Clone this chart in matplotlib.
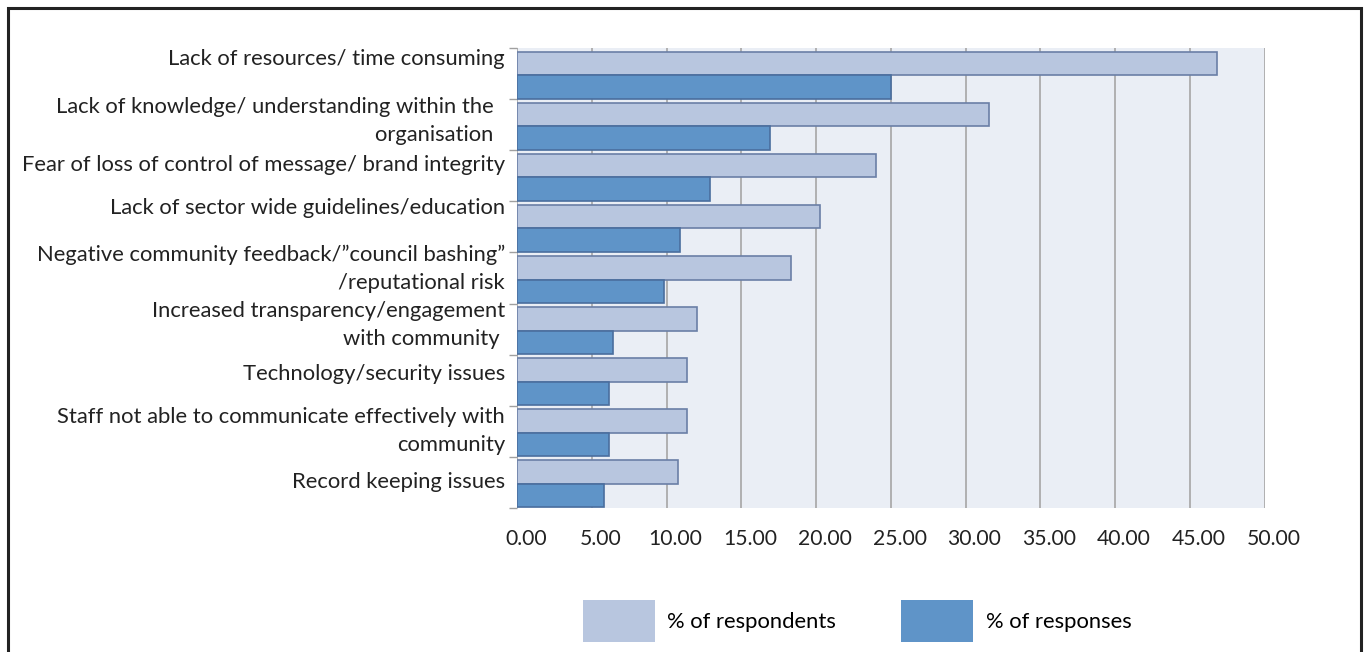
import matplotlib
matplotlib.use("Agg")
import matplotlib.pyplot as plt
import matplotlib.transforms as mtransforms
from matplotlib.patches import Patch, Rectangle
import numpy as np

plt.rcParams['font.family'] = ['Lato', 'DejaVu Sans']

categories = [
    "Lack of resources/ time consuming",
    "Lack of knowledge/ understanding within the  \norganisation  ",
    "Fear of loss of control of message/ brand integrity",
    "Lack of sector wide guidelines/education",
    "Negative community feedback/\u201dcouncil bashing\u201d\n/reputational risk",
    "Increased transparency/engagement\nwith community ",
    "Technology/security issues",
    "Staff not able to communicate effectively with\ncommunity",
    "Record keeping issues",
]
pct_respondents = [46.8, 31.6, 24.0, 20.3, 18.35, 12.05, 11.35, 11.35, 10.8]
pct_responses = [25.05, 16.9, 12.9, 10.9, 9.85, 6.4, 6.15, 6.15, 5.8]
x_ticks = [0, 5, 10, 15, 20, 25, 30, 35, 40, 45, 50]

# small vertical nudges (pixels) for the category labels
label_nudge_px = [15, 4, 11, 19, 9, 4, 6, 0, 0]

light = '#B8C6DF'
light_edge = '#6A7FA6'
dark = '#5F94C8'
dark_edge = '#4A6E9E'
FS = 15.8

fig = plt.figure(figsize=(13.68, 6.52), dpi=100)
ax = fig.add_axes([517 / 1368, 1 - 508 / 652, (1264.5 - 517) / 1368, (508 - 48) / 652])
ax.set_facecolor('#EAEEF5')

y = np.arange(len(categories))
h = 0.46
ax.barh(y - 0.20, pct_respondents, height=h, color=light, edgecolor=light_edge,
        linewidth=1.2, zorder=3)
ax.barh(y + 0.26, pct_responses, height=h, color=dark, edgecolor=dark_edge,
        linewidth=1.2, zorder=3)

ax.set_xlim(0, 50)
ax.set_ylim(len(categories) - 0.5, -0.5)
ax.set_xticks(x_ticks)
ax.set_xticklabels(['%.2f' % v for v in x_ticks], fontsize=15.2, color='#222222')
ax.tick_params(axis='x', length=0, pad=15)
shift = mtransforms.ScaledTranslation(9 / 100, 0, fig.dpi_scale_trans)
for t in ax.get_xticklabels():
    t.set_transform(t.get_transform() + shift)
ax.xaxis.grid(True, color='#ABABAB', linewidth=1.3, zorder=1)
ax.set_axisbelow(True)

# category boundary ticks on the left
ax.set_yticks(np.arange(len(categories) + 1) - 0.5)
ax.set_yticklabels([])
ax.tick_params(axis='y', length=6, width=1, color='#A0A0A0')

for s in ax.spines.values():
    s.set_visible(False)

for i, (lab, dy) in enumerate(zip(categories, label_nudge_px)):
    off = mtransforms.offset_copy(ax.get_yaxis_transform(), fig=fig, x=-12, y=dy, units='dots')
    ax.text(0, i, lab, transform=off, ha='right', va='center', fontsize=FS,
            color='#222222', linespacing=1.52, multialignment='right')

handles = [Patch(facecolor=light, edgecolor='none'), Patch(facecolor=dark, edgecolor='none')]
fig.legend(handles, ['% of respondents', '% of responses'], loc='center',
           bbox_to_anchor=(857 / 1368, 1 - 621 / 652), ncol=2, frameon=False,
           fontsize=FS, handlelength=3.28, handleheight=2.5, handletextpad=0.55,
           columnspacing=3.0)

# outer frame
fig.add_artist(Rectangle((8 / 1368, -0.05), (1361 - 8) / 1368, 1.05 - 8 / 652,
                         transform=fig.transFigure, fill=False,
                         edgecolor='#222222', linewidth=2.2))

fig.savefig('out.png', dpi=100, facecolor='white')
